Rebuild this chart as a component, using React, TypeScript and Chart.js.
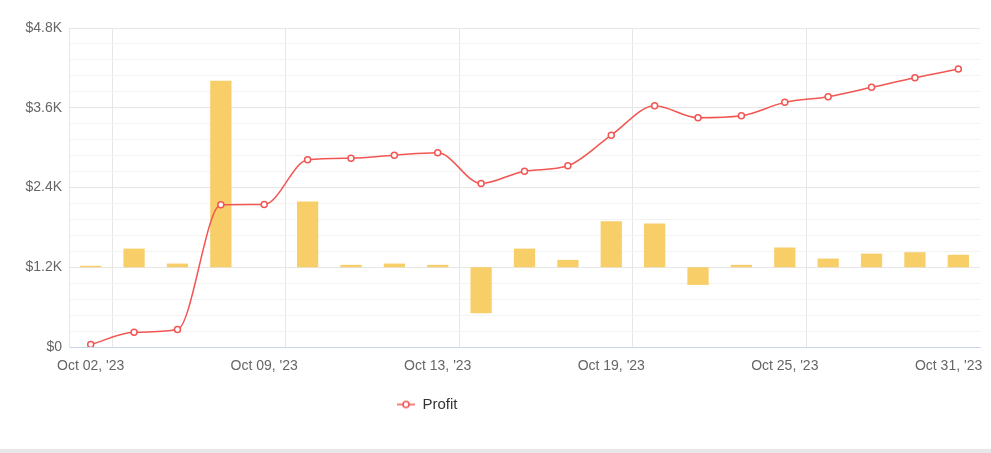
import React, { useEffect, useRef } from "react";
import { Chart, registerables } from "chart.js";

Chart.register(...registerables);

const dates: string[] = [
  "Oct 02, '23", "Oct 03, '23", "Oct 04, '23", "Oct 06, '23",
  "Oct 09, '23", "Oct 10, '23", "Oct 11, '23", "Oct 12, '23", "Oct 13, '23",
  "Oct 16, '23", "Oct 17, '23", "Oct 18, '23", "Oct 19, '23", "Oct 20, '23",
  "Oct 23, '23", "Oct 24, '23", "Oct 25, '23", "Oct 26, '23", "Oct 27, '23",
  "Oct 30, '23", "Oct 31, '23",
];

// cumulative profit (line)
const profit: number[] = [
  36, 221, 262, 2139, 2144, 2816, 2842, 2887, 2922, 2461, 2646,
  2726, 3188, 3630, 3449, 3479, 3681, 3765, 3907, 4051, 4182,
];

// daily profit (bars, secondary hidden axis)
const dailyProfit: number[] = [
  15, 187, 37, 1871, 0, 659, 24, 37, 24, -462, 187,
  74, 462, 439, -177, 24, 198, 87, 137, 151, 125,
];

const yTicksMajor = 1200;
const yStep = 240;

const RED = "rgb(242,86,82)";
const YELLOW = "rgba(247,206,104,1)";
const FONT = "'Liberation Sans', Arial, Helvetica, sans-serif";

function makeLegendIcon(): HTMLCanvasElement {
  const c = document.createElement("canvas");
  c.width = 18;
  c.height = 10;
  const ctx = c.getContext("2d")!;
  ctx.strokeStyle = RED;
  ctx.lineWidth = 1.5;
  ctx.beginPath();
  ctx.moveTo(0, 5);
  ctx.lineTo(18, 5);
  ctx.stroke();
  ctx.beginPath();
  ctx.arc(9, 5, 3, 0, Math.PI * 2);
  ctx.fillStyle = "#fff";
  ctx.fill();
  ctx.stroke();
  return c;
}

export default function App() {
  const ref = useRef<HTMLCanvasElement | null>(null);

  useEffect(() => {
    if (!ref.current) return;
    const icon = makeLegendIcon();
    const legendMover = {
      id: "legendMover",
      beforeDraw(chart: any) {
        const lg = chart.legend;
        if (!lg) return;
        const w = lg.right - lg.left;
        const h = lg.bottom - lg.top;
        lg.left = 387;
        lg.right = 387 + w;
        lg.top = 387;
        lg.bottom = 387 + h;
      },
    };
    const last = dates.length - 1;
    const chart = new Chart(ref.current, {
      type: "bar",
      data: {
        labels: dates,
        datasets: [
          {
            type: "line",
            label: "Profit",
            data: profit,
            yAxisID: "y",
            borderColor: RED,
            borderWidth: 1.5,
            backgroundColor: "#fff",
            pointBackgroundColor: "#fff",
            pointBorderColor: RED,
            pointBorderWidth: 1.5,
            pointRadius: 3,
            cubicInterpolationMode: "monotone",
            order: 0,
          } as any,
          {
            type: "bar",
            label: "Daily",
            data: dailyProfit,
            yAxisID: "y1",
            backgroundColor: YELLOW,
            barPercentage: 0.49,
            categoryPercentage: 1,
            order: 1,
          },
        ],
      },
      options: {
        responsive: false,
        animation: false,
        layout: { padding: { top: 28, right: 11, left: 0, bottom: 41 } },
        plugins: {
          tooltip: { enabled: false },
          legend: {
            position: "bottom",
            align: "start",
            labels: {
              usePointStyle: true,
              pointStyle: icon as any,
              pointStyleWidth: 18,
              font: { family: FONT, size: 15 },
              color: "#333",
              filter: (item: any) => item.datasetIndex === 0,
            },
          },
        },
        scales: {
          x: {
            offset: true,
            grid: {
              offset: true,
              drawTicks: false,
              color: (ctx: any) => (ctx.index % 4 === 1 ? "#e6e6e6" : "rgba(0,0,0,0)"),
              lineWidth: 1,
            },
            border: { display: true, color: "#ccd6eb", width: 1 },
            ticks: {
              autoSkip: false,
              maxRotation: 0,
              padding: 11,
              color: "#666",
              font: { family: FONT, size: 14 },
              callback: (_v: any, i: number) =>
                i % 4 === 0 ? (i === last ? dates[i] + "     " : dates[i]) : "",
            },
            afterFit: (s: any) => {
              s.height = 30;
              s.paddingLeft = 0;
              s.paddingRight = 0;
            },
          },
          y: {
            min: 0,
            max: 4800,
            position: "left",
            grid: {
              drawTicks: false,
              color: (ctx: any) =>
                ctx.tick && ctx.tick.value % yTicksMajor === 0 ? "#e6e6e6" : "#f3f3f3",
            },
            border: { display: true, color: "#e6e6e6" },
            ticks: {
              stepSize: yStep,
              autoSkip: false,
              padding: 7,
              color: "#666",
              font: { family: FONT, size: 14 },
              callback: (v: any) => {
                const n = Number(v);
                if (n % yTicksMajor !== 0) return "";
                return n === 0 ? "$0" : "$" + (n / 1000).toFixed(1) + "K";
              },
            },
            afterFit: (s: any) => {
              s.width = 69;
            },
          },
          y1: {
            display: false,
            min: -800,
            max: 2400,
          },
        },
      },
      plugins: [legendMover],
    });
    return () => chart.destroy();
  }, []);

  return (
    <div
      style={{
        position: "fixed",
        left: 0,
        top: 0,
        width: 991,
        height: 453,
        background: "#fff",
        overflow: "hidden",
      }}
    >
      <canvas ref={ref} width={991} height={453} style={{ display: "block" }} />
      <div
        style={{
          position: "absolute",
          left: 0,
          top: 449,
          width: 991,
          height: 4,
          background: "#e8e8e8",
        }}
      />
    </div>
  );
}
